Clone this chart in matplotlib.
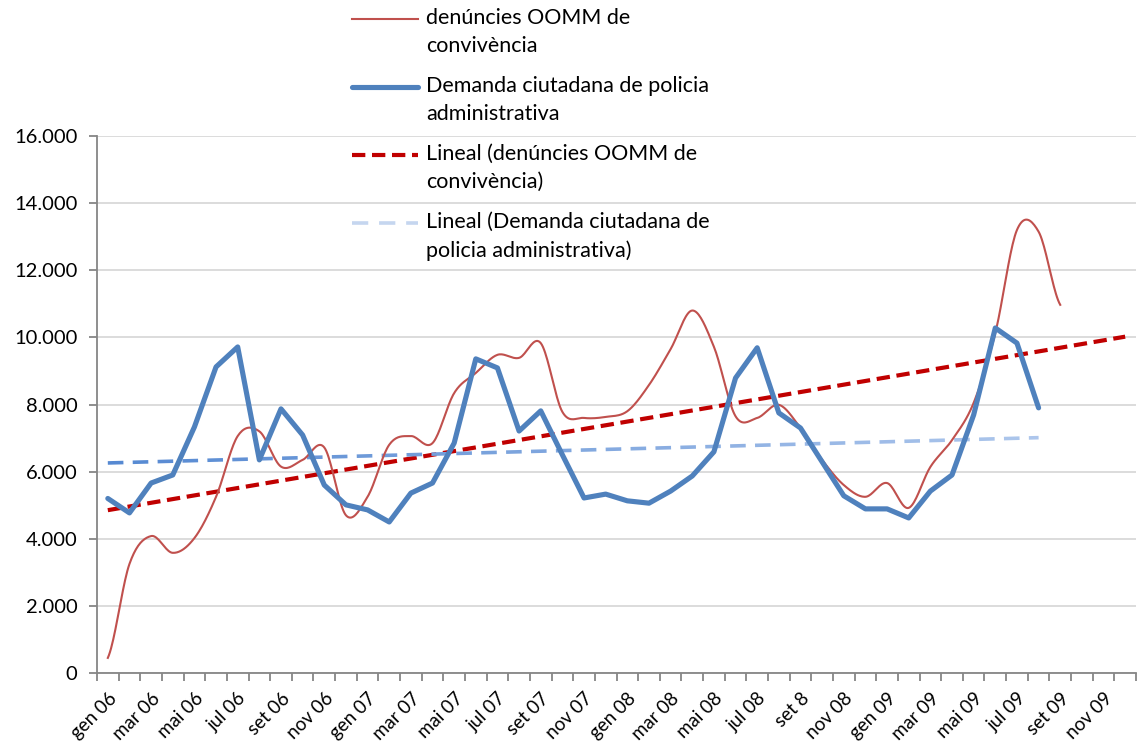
import numpy as np
import matplotlib
matplotlib.use("Agg")
import matplotlib.pyplot as plt
from matplotlib.collections import LineCollection
from matplotlib.lines import Line2D
from matplotlib.colors import to_rgb
from matplotlib.ticker import FuncFormatter

plt.rcParams["font.family"] = ["Lato", "DejaVu Sans"]

months = ["gen", "feb", "mar", "abr", "mai", "jun", "jul", "ago", "set", "oct", "nov", "des"]
years = ["06", "07", "08", "09"]
categories = [f"{m} {y}" for y in years for m in months]
categories[32] = "set 8"  # as written in the original

# denúncies OOMM de convivència (gen 06 - set 09)
denuncies = [450, 3250, 4080, 3580, 4020, 5250, 7060, 7200, 6150, 6350, 6720, 4700,
             5250, 6800, 7060, 6850, 8340, 8940, 9480, 9390, 9830, 7780, 7600, 7630,
             7800, 8580, 9650, 10800, 9720, 7650, 7600, 7990, 7300, 6350, 5600, 5250,
             5660, 4920, 6140, 6940, 8050, 10130, 13200, 13150, 10970]

# Demanda ciutadana de policia administrativa (gen 06 - ago 09)
demanda = [5200, 4770, 5660, 5900, 7330, 9120, 9715, 6350, 7870, 7090, 5600, 5010,
           4860, 4500, 5360, 5660, 6850, 9360, 9090, 7210, 7810, 6500, 5215, 5330,
           5130, 5060, 5420, 5870, 6590, 8790, 9690, 7750, 7300, 6290, 5280, 4890,
           4890, 4620, 5420, 5900, 7690, 10280, 9830, 7900]

labels = ["denúncies OOMM de\nconvivència",
          "Demanda ciutadana de policia\nadministrativa",
          "Lineal (denúncies OOMM de\nconvivència)",
          "Lineal (Demanda ciutadana de\npolicia administrativa)"]

RED = "#C0504D"
BLUE = "#4F81BD"
TREND_RED = "#C00000"


def smooth(y, n=20):
    # Catmull-Rom style smoothing like the spreadsheet's "smoothed line"
    y = np.asarray(y, float)
    x = np.arange(len(y), dtype=float)
    xs, ys = [], []
    for i in range(len(y) - 1):
        p0 = y[i - 1] if i > 0 else y[i]
        p3 = y[i + 2] if i + 2 < len(y) else y[i + 1]
        p1, p2 = y[i], y[i + 1]
        t = np.linspace(0, 1, n, endpoint=False)
        c1 = p1 + (p2 - p0) / 6
        c2 = p2 - (p3 - p1) / 6
        ys.append((1 - t) ** 3 * p1 + 3 * (1 - t) ** 2 * t * c1 + 3 * (1 - t) * t ** 2 * c2 + t ** 3 * p2)
        xs.append(x[i] + t)
    xs.append([x[-1]])
    ys.append([y[-1]])
    return np.concatenate(xs), np.concatenate(ys)


fig = plt.figure(figsize=(11.39, 7.44), dpi=100)
ax = fig.add_axes([97 / 1139, 71 / 744, 1039 / 1139, 537 / 744])

ax.set_xlim(-0.5, len(categories) - 0.5)
ax.set_ylim(0, 16000)
ax.set_yticks(np.arange(0, 16001, 2000))
ax.yaxis.set_major_formatter(FuncFormatter(lambda v, p: f"{int(v):,}".replace(",", ".")))
ax.grid(axis="y", color="#D9D9D9", linewidth=1.3)
ax.set_axisbelow(True)

# trend lines from least squares fits
xr = np.arange(len(denuncies))
a, b = np.polyfit(xr, denuncies, 1)
xt = np.arange(len(categories))
ax.plot(xt, a * xt + b, color=TREND_RED, linewidth=3.0, dashes=(3.2, 1.6), zorder=3)

xb = np.arange(len(demanda))
a2, b2 = np.polyfit(xb, demanda, 1)
# dashed trend with fading colour
period, dash = 1.15, 0.72
starts = np.arange(0, xb[-1], period)
segs, cols = [], []
c0, c1 = np.array(to_rgb("#5689D2")), np.array(to_rgb("#AEC7EC"))
for s in starts:
    e = min(s + dash, xb[-1])
    segs.append([(s, a2 * s + b2), (e, a2 * e + b2)])
    f = s / xb[-1]
    cols.append(c0 * (1 - f) + c1 * f)
ax.add_collection(LineCollection(segs, colors=cols, linewidths=2.6, capstyle="butt", zorder=3))

sx, sy = smooth(denuncies)
ax.plot(sx, sy, color=RED, linewidth=1.5, zorder=4)
ax.plot(xb, demanda, color=BLUE, linewidth=3.7, solid_joinstyle="round",
        solid_capstyle="round", zorder=5)

for side in ["top", "right"]:
    ax.spines[side].set_visible(False)
for side in ["left", "bottom"]:
    ax.spines[side].set_color("#868686")
    ax.spines[side].set_linewidth(1.3)

ax.set_xticks(np.arange(0, len(categories), 2))
ax.set_xticklabels(categories[::2], rotation=45, ha="right", rotation_mode="anchor", fontsize=13.5)
ax.set_xticks(np.arange(-0.5, len(categories), 1), minor=True)
ax.tick_params(axis="x", which="major", length=0, pad=12)
ax.tick_params(axis="x", which="minor", length=6, width=1.3, color="#868686")
ax.tick_params(axis="y", length=6, width=1.3, color="#868686", labelsize=14.5, pad=8)

# legend drawn at the top, handle aligned with first text line
handles = [dict(color=RED, lw=1.5, ls="-"),
           dict(color=BLUE, lw=3.7, ls="-", solid_capstyle="round"),
           dict(color=TREND_RED, lw=3.0, dashes=(3.2, 1.6)),
           dict(color="#C5D6EF", lw=2.6, dashes=(4.5, 3.0))]
for k, (lab, h) in enumerate(zip(labels, handles)):
    yk = 1 - (19 + 68 * k) / 744
    fig.add_artist(Line2D([352 / 1139, 418 / 1139], [yk, yk], transform=fig.transFigure, **h))
    fig.text(426 / 1139, yk + 11 / 744, lab, fontsize=15.5, va="top", ha="left",
             linespacing=1.5, transform=fig.transFigure)

fig.savefig("out.png", dpi=100)
